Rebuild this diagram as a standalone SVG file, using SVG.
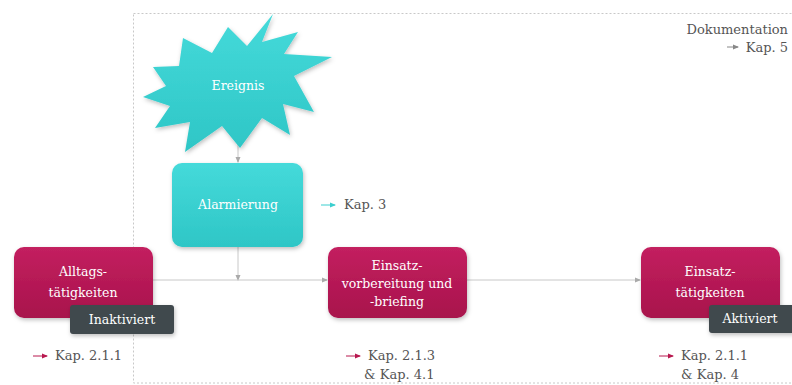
<svg xmlns="http://www.w3.org/2000/svg" width="792" height="385" viewBox="0 0 792 385">
<defs>
<linearGradient id="gTeal" x1="0" y1="0" x2="0" y2="1"><stop offset="0" stop-color="#45dada"/><stop offset="1" stop-color="#2ec6c6"/></linearGradient>
<linearGradient id="gRed" x1="0" y1="0" x2="0" y2="1"><stop offset="0" stop-color="#c3205f"/><stop offset="1" stop-color="#a8124c"/></linearGradient>
<filter id="sh" x="-10%" y="-10%" width="130%" height="130%"><feDropShadow dx="1" dy="2" stdDeviation="2" flood-color="#000" flood-opacity="0.25"/></filter>
<marker id="ah" viewBox="0 0 6 6" refX="5" refY="3" markerWidth="6" markerHeight="6" orient="auto"><path d="M0,0.5 L6,3 L0,5.5 z" fill="#aaaaaa"/></marker>
<marker id="ahT" viewBox="0 0 6 6" refX="5" refY="3" markerWidth="6" markerHeight="6" orient="auto"><path d="M0,0.5 L6,3 L0,5.5 z" fill="#3ccfcf"/></marker>
<marker id="ahR" viewBox="0 0 6 6" refX="5" refY="3" markerWidth="6" markerHeight="6" orient="auto"><path d="M0,0.5 L6,3 L0,5.5 z" fill="#b8184f"/></marker>
<marker id="ahG" viewBox="0 0 6 6" refX="5" refY="3" markerWidth="6" markerHeight="6" orient="auto"><path d="M0,0.5 L6,3 L0,5.5 z" fill="#888"/></marker>
</defs>
<style>
.t{font-family:"DejaVu Serif","Liberation Serif",serif;font-size:13px;fill:#555}
.w{font-family:"DejaVu Serif","Liberation Serif",serif;font-size:12.5px;fill:#ffffff;text-anchor:middle}
.conn{stroke:#c8c8c8;stroke-width:1;fill:none}
.red{fill:url(#gRed);filter:url(#sh)}
.teal{fill:url(#gTeal);filter:url(#sh)}
.tag{fill:#40484e;filter:url(#sh)}
</style>
<rect width="792" height="385" fill="#ffffff"/>
<rect x="133.5" y="13.5" width="700" height="369.5" fill="none" stroke="#c8c8c8" stroke-width="1" stroke-dasharray="2,2"/>

<g id="connectors">
<line class="conn" x1="238" y1="143" x2="238" y2="162" marker-end="url(#ah)"/>
<line class="conn" x1="238" y1="247" x2="238" y2="280" marker-end="url(#ah)"/>
<line class="conn" x1="153" y1="280" x2="327" y2="280" marker-end="url(#ah)"/>
<line class="conn" x1="467" y1="280" x2="640" y2="280" marker-end="url(#ah)"/>
</g>

<g id="ereignis">
<polygon class="teal" points="273,14 262,42 298,32 284,54 332,57 294,76 314,112 283,104 290,135 262,118 240,148 222,126 185,152 190,122 155,128 170,106 143,97 166,86 153,67 179,66 183,38 212,53 228,27 247,46"/>
<text class="w" x="238" y="90">Ereignis</text>
</g>

<g id="alarmierung">
<rect class="teal" x="172" y="163" width="131" height="84" rx="10"/>
<text class="w" x="238" y="209">Alarmierung</text>
</g>

<g id="kap3">
<line x1="321" y1="205" x2="335" y2="205" stroke="#3ccfcf" stroke-width="1" marker-end="url(#ahT)"/>
<text class="t" x="344" y="209">Kap. 3</text>
</g>

<g id="doku">
<text class="t" x="788" y="34" text-anchor="end">Dokumentation</text>
<line x1="727" y1="47" x2="738" y2="47" stroke="#888" stroke-width="1" marker-end="url(#ahG)"/>
<text class="t" x="788" y="52" text-anchor="end">Kap. 5</text>
</g>

<g id="alltag">
<rect class="red" x="14" y="247" width="139" height="71" rx="10"/>
<text class="w" x="83" y="276">Alltags-</text>
<text class="w" x="83" y="297">tätigkeiten</text>
<rect class="tag" x="70" y="305" width="104" height="29" rx="3"/>
<text class="w" x="122" y="324">Inaktiviert</text>
<line x1="33" y1="356" x2="47" y2="356" stroke="#b8184f" stroke-width="1" marker-end="url(#ahR)"/>
<text class="t" x="55" y="360">Kap. 2.1.1</text>
</g>

<g id="vorbereitung">
<rect class="red" x="328" y="247" width="139" height="71" rx="10"/>
<text class="w" x="397" y="270">Einsatz-</text>
<text class="w" x="397" y="288">vorbereitung und</text>
<text class="w" x="397" y="306">-briefing</text>
<line x1="346" y1="356" x2="360" y2="356" stroke="#b8184f" stroke-width="1" marker-end="url(#ahR)"/>
<text class="t" x="368" y="360">Kap. 2.1.3</text>
<text class="t" x="364" y="379">&amp; Kap. 4.1</text>
</g>

<g id="einsatz">
<rect class="red" x="641" y="247" width="139" height="71" rx="10"/>
<text class="w" x="710" y="276">Einsatz-</text>
<text class="w" x="710" y="297">tätigkeiten</text>
<rect class="tag" x="709" y="305" width="86" height="28" rx="3"/>
<text class="w" x="750" y="323">Aktiviert</text>
<line x1="659" y1="356" x2="673" y2="356" stroke="#b8184f" stroke-width="1" marker-end="url(#ahR)"/>
<text class="t" x="681" y="360">Kap. 2.1.1</text>
<text class="t" x="681" y="379">&amp; Kap. 4</text>
</g>
</svg>
